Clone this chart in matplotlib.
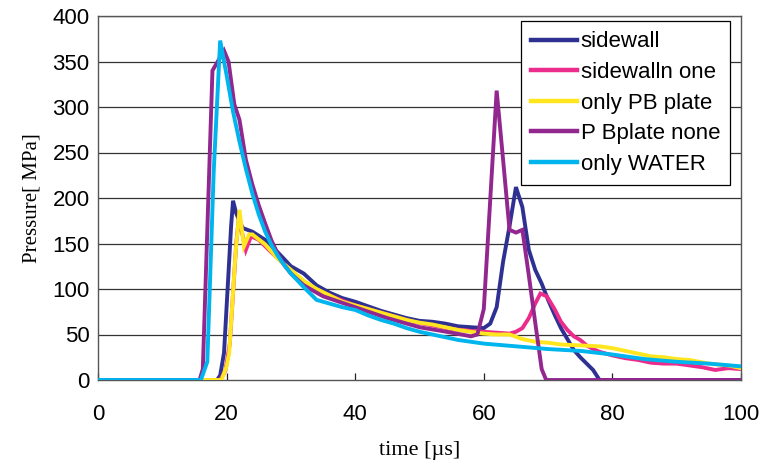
import matplotlib
matplotlib.use("Agg")
import matplotlib.pyplot as plt

# ---- data ----
labels = ["sidewall", "sidewalln one", "only PB plate", "P Bplate none", "only WATER"]
colors = ["#2E3192", "#EC2C8C", "#FFE61E", "#92278F", "#00B4EE"]

t_sidewall = [0, 18.5, 19.0, 19.6, 20.7, 21.0, 21.5, 22.5, 24, 26, 28, 30, 32, 34, 36, 38, 40, 42, 44, 46,
              48, 50, 52, 54, 56, 58, 60, 61, 62, 63, 64, 65, 66, 67, 68, 69, 70, 71, 72, 73, 74, 75, 76, 77, 78, 100]
p_sidewall = [0, 0, 5, 30, 169, 197, 183, 167, 163, 154, 140, 125, 117, 104, 96, 90, 86, 81, 76, 72,
              68, 65, 64, 62, 59, 58, 57, 62, 80, 130, 169, 212, 190, 143, 121, 106, 88, 72, 57, 45, 33, 25, 18, 11, 0, 0]

t_sidewall_none = [0, 19.0, 19.8, 20.5, 21.5, 21.9, 23.0, 23.8, 25, 27, 29, 31, 33, 35, 37, 40, 43, 46, 49, 52,
                   55, 58, 60, 62, 64, 65, 66, 67, 68, 68.8, 69.8, 71, 72, 73, 74, 75, 76, 77, 78, 80, 82, 84,
                   86, 88, 90, 92, 94, 96, 98, 100]
p_sidewall_none = [0, 0, 10, 40, 150, 178, 143, 158, 154, 140, 127, 113, 103, 96, 90, 82, 76, 70, 64, 60,
                   56, 54, 53, 52, 51, 53, 57, 68, 84, 95, 92, 78, 64, 55, 48, 44, 38, 34, 31, 27, 24, 22,
                   19, 18, 18, 16, 14, 11, 13, 12]

t_pb_plate = [0, 19.2, 20.0, 20.4, 21.4, 22.0, 22.7, 23.5, 24, 26, 28, 30, 32, 34, 36, 38, 40, 42, 44, 46,
              48, 50, 52, 54, 56, 58, 60, 62, 64, 66, 68, 70, 72, 75, 78, 80, 82, 84, 86, 88, 90, 92, 95, 98, 100]
p_pb_plate = [0, 0, 15, 30, 140, 187, 147, 160, 160, 149, 133, 121, 109, 100, 93, 86, 82, 78, 74, 70,
              66, 63, 61, 58, 55, 53, 51, 50, 50, 45, 42, 41, 39, 38, 37, 35, 32, 29, 26, 25, 23, 22, 18, 16, 13]

t_pb_none = [0, 15.8, 16.3, 17.8, 19.6, 20.3, 21.2, 22, 23, 24, 25, 26, 27, 28, 29, 30, 32, 35, 40, 45, 50,
             55, 58, 59, 60, 62, 63, 64, 65, 66, 67, 68, 69, 69.7, 100]
p_pb_none = [0, 0, 12, 340, 362, 350, 303, 286, 242, 215, 192, 172, 153, 138, 126, 117, 104, 92, 80, 68, 58,
             52, 48, 50, 78, 318, 242, 165, 162, 165, 115, 63, 12, 0, 0]

t_water = [0, 16, 17, 18, 19, 20, 21, 22, 23, 24, 25, 26, 27, 28, 29, 30, 32, 34, 36, 38, 40, 42, 44, 46,
           48, 50, 52, 54, 56, 58, 60, 65, 70, 75, 80, 85, 90, 95, 100]
p_water = [0, 0, 20, 230, 373, 335, 295, 262, 232, 205, 182, 163, 148, 136, 126, 117, 102, 88, 84, 80, 77,
           71, 66, 62, 57, 53, 50, 47, 44, 42, 40, 37, 34, 32, 28, 23, 20, 18, 15]

series_t = [t_sidewall, t_sidewall_none, t_pb_plate, t_pb_none, t_water]
series_p = [p_sidewall, p_sidewall_none, p_pb_plate, p_pb_none, p_water]

xticks = [0, 20, 40, 60, 80, 100]
yticks = [0, 50, 100, 150, 200, 250, 300, 350, 400]

# ---- figure ----
fig = plt.figure(figsize=(7.63, 4.67), dpi=100)
ax = fig.add_axes([98 / 763, 1 - 380 / 467, 643 / 763, 364 / 467])

for y in yticks[1:]:
    ax.axhline(y, color="#333333", lw=0.9, zorder=1)

for t, p, c, lab in zip(series_t, series_p, colors, labels):
    ax.plot(t, p, color=c, lw=2.8, label=lab, zorder=3, solid_joinstyle="miter")

ax.set_xlim(0, 100)
ax.set_ylim(0, 400)
ax.set_xticks(xticks)
ax.set_yticks(yticks)

tickfont = {"family": "Liberation Sans", "size": 16}
ax.set_xticklabels([str(v) for v in xticks], fontdict=tickfont)
ax.set_yticklabels([str(v) for v in yticks], fontdict=tickfont)
ax.tick_params(axis="x", direction="in", length=5, width=0.9, pad=17, colors="#222222", labelcolor="black")
ax.tick_params(axis="y", length=0, pad=6, labelcolor="black")

for s in ax.spines.values():
    s.set_color("#555555")
    s.set_linewidth(1.0)

ax.set_ylabel("Pressure[ MPa]", family="Liberation Serif", size=15, labelpad=8)
ax.set_xlabel("time [\u00b5s]", family="Liberation Serif", size=16, labelpad=12)

leg = ax.legend(loc="upper right", bbox_to_anchor=(0.983, 0.985), prop={"family": "Liberation Sans", "size": 16},
                frameon=True, fancybox=False, edgecolor="black", framealpha=1, handlelength=2.1,
                handletextpad=0.15, labelspacing=0.43, borderpad=0.45, borderaxespad=0)
leg.get_frame().set_linewidth(0.9)
for line in leg.get_lines():
    line.set_linewidth(3.2)

fig.savefig("out.png", dpi=100)
